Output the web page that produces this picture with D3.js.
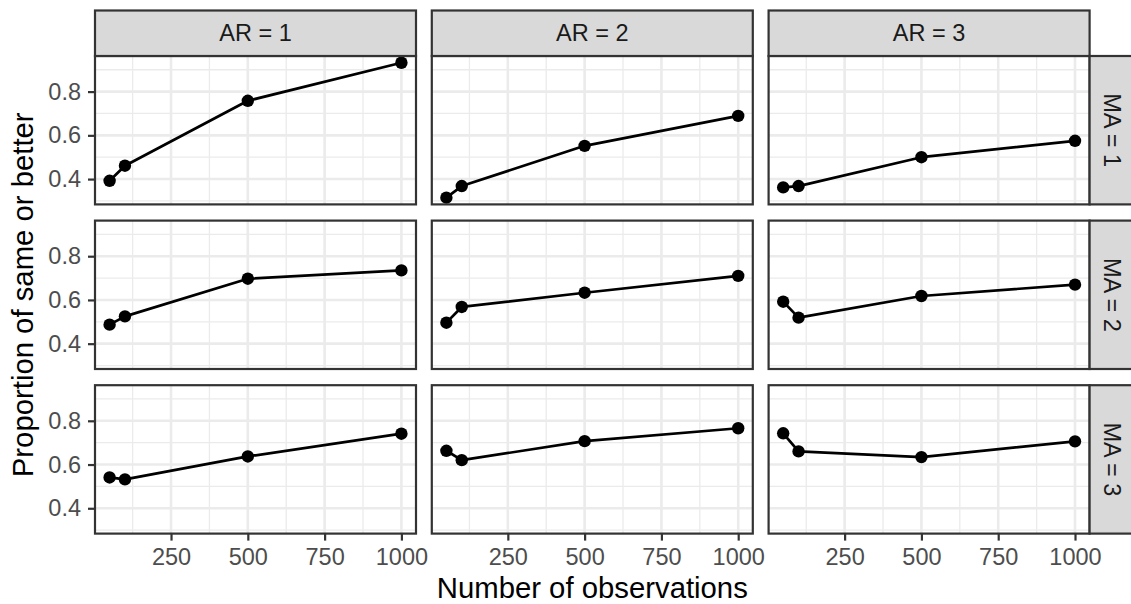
<!DOCTYPE html>
<html><head><meta charset="utf-8">
<script src="https://cdn.jsdelivr.net/npm/d3@7"></script>
<style>
html,body{margin:0;padding:0;background:#fff;}
svg{display:block;font-family:"Liberation Sans",Arial,Helvetica,sans-serif;}
</style></head>
<body><svg id="chart" width="1131" height="604"></svg>
<script>
// Data
const observations = [50, 100, 500, 1000];
const arLevels = [1, 2, 3];
const maLevels = [1, 2, 3];
// proportion for each MA (row) / AR (column) pair, at each number of observations
const ma1_ar1 = [0.392, 0.461, 0.758, 0.932];
const ma1_ar2 = [0.315, 0.368, 0.552, 0.689];
const ma1_ar3 = [0.362, 0.368, 0.500, 0.575];
const ma2_ar1 = [0.487, 0.525, 0.697, 0.735];
const ma2_ar2 = [0.496, 0.568, 0.633, 0.710];
const ma2_ar3 = [0.592, 0.519, 0.618, 0.670];
const ma3_ar1 = [0.541, 0.532, 0.637, 0.741];
const ma3_ar2 = [0.663, 0.620, 0.707, 0.766];
const ma3_ar3 = [0.743, 0.660, 0.634, 0.706];
const xTicks = [250, 500, 750, 1000];
const xMinor = [125, 375, 625, 875];
const yTicks = [0.4, 0.6, 0.8];
const yMinor = [0.3, 0.5, 0.7, 0.9];

const seriesGrid = [
  [ma1_ar1, ma1_ar2, ma1_ar3],
  [ma2_ar1, ma2_ar2, ma2_ar3],
  [ma3_ar1, ma3_ar2, ma3_ar3]
];

const svg = d3.select("#chart");
const panelW = 321, panelH = 148.4;
const left0 = 95, top0 = 56, gapX = 15.8, gapY = 16.2;
const stripH = 45.5, stripW = 45;
const tickFont = 23.5, titleFont = 29.3;

const allVals = seriesGrid.flat(2);
const [ymin, ymax] = d3.extent(allVals);
const yr = ymax - ymin;
const [xmin, xmax] = d3.extent(observations);
const xr = xmax - xmin;

const x = d3.scaleLinear().domain([xmin - 0.05 * xr, xmax + 0.05 * xr]).range([0, panelW]);
const y = d3.scaleLinear().domain([ymin - 0.05 * yr, ymax + 0.05 * yr]).range([panelH, 0]);

const border = "#333333";
const fmtY = d3.format(".1f");

maLevels.forEach((ma, ri) => {
  arLevels.forEach((ar, ci) => {
    const px = left0 + ci * (panelW + gapX);
    const py = top0 + ri * (panelH + gapY);
    const g = svg.append("g").attr("transform", `translate(${px},${py})`);
    g.append("rect").attr("width", panelW).attr("height", panelH).attr("fill", "#fff");
    // minor grid
    g.selectAll(".xm").data(xMinor).enter().append("line")
      .attr("x1", d => x(d)).attr("x2", d => x(d)).attr("y1", 0).attr("y2", panelH)
      .attr("stroke", "#EBEBEB").attr("stroke-width", 1.3);
    g.selectAll(".ym").data(yMinor).enter().append("line")
      .attr("y1", d => y(d)).attr("y2", d => y(d)).attr("x1", 0).attr("x2", panelW)
      .attr("stroke", "#EBEBEB").attr("stroke-width", 1.3);
    // major grid
    g.selectAll(".xM").data(xTicks).enter().append("line")
      .attr("x1", d => x(d)).attr("x2", d => x(d)).attr("y1", 0).attr("y2", panelH)
      .attr("stroke", "#EBEBEB").attr("stroke-width", 2.6);
    g.selectAll(".yM").data(yTicks).enter().append("line")
      .attr("y1", d => y(d)).attr("y2", d => y(d)).attr("x1", 0).attr("x2", panelW)
      .attr("stroke", "#EBEBEB").attr("stroke-width", 2.6);
    // data
    const vals = seriesGrid[ri][ci];
    const pts = observations.map((o, i) => [o, vals[i]]);
    g.append("path").datum(pts)
      .attr("d", d3.line().x(d => x(d[0])).y(d => y(d[1])))
      .attr("fill", "none").attr("stroke", "#000").attr("stroke-width", 2.7)
      .attr("stroke-linejoin", "round");
    g.selectAll(".pt").data(pts).enter().append("circle")
      .attr("cx", d => x(d[0])).attr("cy", d => y(d[1])).attr("r", 6.2).attr("fill", "#000");
    // border
    g.append("rect").attr("width", panelW).attr("height", panelH)
      .attr("fill", "none").attr("stroke", border).attr("stroke-width", 2.2);

    // y axis on left column
    if (ci === 0) {
      const ya = g.append("g").call(d3.axisLeft(y).tickValues(yTicks).tickFormat(fmtY).tickSize(7).tickPadding(7));
      ya.select(".domain").remove();
      ya.selectAll(".tick line").attr("stroke", border).attr("stroke-width", 2.2);
      ya.selectAll(".tick text").attr("fill", "#4D4D4D").attr("font-size", tickFont)
        .attr("font-family", "Liberation Sans, Arial, sans-serif");
    }
    // x axis on bottom row
    if (ri === maLevels.length - 1) {
      const xa = g.append("g").attr("transform", `translate(0,${panelH})`)
        .call(d3.axisBottom(x).tickValues(xTicks).tickFormat(d3.format("d")).tickSize(7).tickPadding(8));
      xa.select(".domain").remove();
      xa.selectAll(".tick line").attr("stroke", border).attr("stroke-width", 2.2);
      xa.selectAll(".tick text").attr("fill", "#4D4D4D").attr("font-size", tickFont)
        .attr("font-family", "Liberation Sans, Arial, sans-serif");
    }
    // top strips
    if (ri === 0) {
      const sg = svg.append("g").attr("transform", `translate(${px},${top0 - stripH})`);
      sg.append("rect").attr("width", panelW).attr("height", stripH)
        .attr("fill", "#D9D9D9").attr("stroke", border).attr("stroke-width", 2.2);
      sg.append("text").attr("x", panelW / 2).attr("y", stripH / 2).attr("dy", "0.35em")
        .attr("text-anchor", "middle").attr("font-size", tickFont).attr("fill", "#1A1A1A")
        .text(`AR = ${ar}`);
    }
    // right strips
    if (ci === arLevels.length - 1) {
      const sx = px + panelW;
      const sg = svg.append("g").attr("transform", `translate(${sx},${py})`);
      sg.append("rect").attr("width", stripW + 10).attr("height", panelH)
        .attr("fill", "#D9D9D9").attr("stroke", border).attr("stroke-width", 2.2);
      sg.append("text").attr("transform", `translate(${stripW / 2},${panelH / 2}) rotate(90)`)
        .attr("dy", "0.35em").attr("text-anchor", "middle").attr("font-size", tickFont).attr("fill", "#1A1A1A")
        .text(`MA = ${ma}`);
    }
  });
});

// axis titles
const plotLeft = left0, plotRight = left0 + 3 * panelW + 2 * gapX;
const plotTop = top0, plotBottom = top0 + 3 * panelH + 2 * gapY;
svg.append("text").attr("x", (plotLeft + plotRight) / 2).attr("y", 598)
  .attr("text-anchor", "middle").attr("font-size", titleFont).attr("fill", "#000")
  .text("Number of observations");
svg.append("text").attr("transform", `translate(33,${(plotTop + plotBottom) / 2}) rotate(-90)`)
  .attr("text-anchor", "middle").attr("font-size", titleFont).attr("fill", "#000")
  .text("Proportion of same or better");
</script></body></html>
